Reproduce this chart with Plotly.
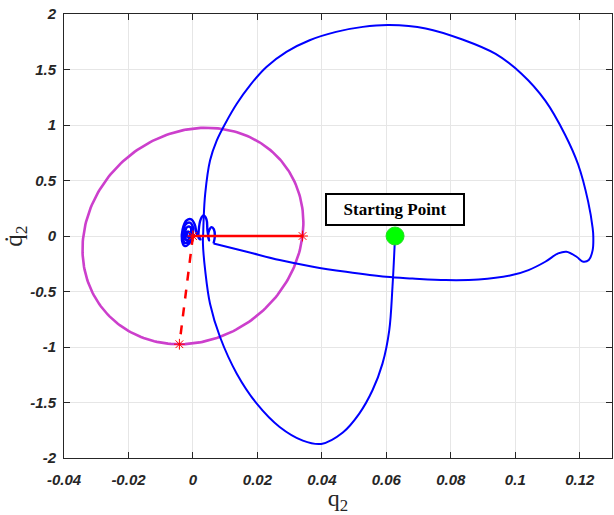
import numpy as np
import plotly.graph_objects as go

# Phase-plane trajectory (q2, dq2/dt), starting at the green marker
traj_q = [0.0627, 0.0624, 0.0619, 0.0609, 0.0588, 0.0557, 0.0516, 0.0465, 0.0398, 0.0341,
          0.0269, 0.0198, 0.0136, 0.0084, 0.0053, 0.0038, 0.0031, 0.0032, 0.0033, 0.0038,
          0.0053, 0.0074, 0.0100, 0.0136, 0.0177, 0.0228, 0.0290, 0.0362, 0.0444, 0.0527,
          0.0609, 0.0722, 0.0836, 0.0939, 0.1020, 0.1093, 0.1154, 0.1195, 0.1226, 0.1240,
          0.1242, 0.1240, 0.1228, 0.1211, 0.1190, 0.1159, 0.1133, 0.1093, 0.1041, 0.0990,
          0.0886, 0.0784, 0.0681, 0.0599, 0.0475, 0.0372, 0.0269, 0.0167, 0.0064]
traj_qdot = [0.0, -0.187, -0.458, -0.85, -1.15, -1.39, -1.60, -1.77, -1.873, -1.843,
             -1.72, -1.51, -1.24, -0.91, -0.61, -0.31, -0.067, 0.04, 0.138, 0.379,
             0.680, 0.861, 1.012, 1.192, 1.358, 1.523, 1.659, 1.764, 1.839, 1.884,
             1.90, 1.87, 1.77, 1.64, 1.46, 1.22, 0.915, 0.644, 0.31, 0.07,
             -0.006, -0.127, -0.217, -0.232, -0.187, -0.142, -0.157, -0.232, -0.307, -0.352,
             -0.392, -0.397, -0.383, -0.368, -0.323, -0.277, -0.217, -0.142, -0.067]

# Decaying small loops around the equilibrium
spiral_q = [0.0064, 0.0068, 0.0065, 0.0058, 0.0050, 0.0047, 0.0050, 0.0045, 0.0042, 0.0033,
            0.0024, 0.0018, 0.0018, 0.0024, 0.0012, 0.0006, -0.0005, -0.0020, -0.0032, -0.0034,
            -0.0026, -0.0012, -0.0002, 0.0000, -0.0010, -0.0024, -0.0030, -0.0026, -0.0014, -0.0006,
            -0.0008, -0.0018, -0.0024, -0.0020, -0.0012, -0.0010, -0.0016, -0.0018, -0.0014]
spiral_qdot = [-0.067, 0.0, 0.06, 0.08, 0.05, 0.0, -0.04, 0.05, 0.15, 0.185,
               0.15, 0.05, -0.02, -0.03, 0.02, 0.10, 0.15, 0.14, 0.06, -0.04,
               -0.09, -0.07, 0.0, 0.08, 0.12, 0.10, 0.02, -0.06, -0.05, 0.02,
               0.08, 0.08, 0.02, -0.04, -0.02, 0.03, 0.04, 0.0, -0.01]

# Two conjugate semi-axes spanning the magenta ellipse
axis_a = [0.034, 0.0]
axis_b = [-0.0042, -0.975]

start_point = [0.0627, 0.0]

x_ticks = [-0.04, -0.02, 0, 0.02, 0.04, 0.06, 0.08, 0.1, 0.12]
x_tick_text = ["-0.04", "-0.02", "0", "0.02", "0.04", "0.06", "0.08", "0.1", "0.12"]
y_ticks = [-2, -1.5, -1, -0.5, 0, 0.5, 1, 1.5, 2]
y_tick_text = ["-2", "-1.5", "-1", "-0.5", "0", "0.5", "1", "1.5", "2"]

t = np.linspace(0, 2 * np.pi, 241)
ell_x = axis_a[0] * np.cos(t) + axis_b[0] * np.sin(t)
ell_y = axis_a[1] * np.cos(t) + axis_b[1] * np.sin(t)

fig = go.Figure()

fig.add_trace(go.Scatter(x=ell_x, y=ell_y, mode="lines",
                         line=dict(color="#cc3fcc", width=2.6), hoverinfo="skip"))

fig.add_trace(go.Scatter(x=traj_q, y=traj_qdot, mode="lines",
                         line=dict(color="#0000ff", width=2, shape="spline", smoothing=1)))
fig.add_trace(go.Scatter(x=spiral_q, y=spiral_qdot, mode="lines",
                         line=dict(color="#0000ff", width=2.4, shape="spline", smoothing=1)))

fig.add_trace(go.Scatter(x=[0, axis_a[0]], y=[0, axis_a[1]], mode="lines+markers",
                         line=dict(color="#ff0000", width=2.5),
                         marker=dict(symbol="asterisk-open", size=9, color="#ff0000",
                                     line=dict(color="#ff0000", width=1))))
fig.add_trace(go.Scatter(x=[0, axis_b[0]], y=[0, axis_b[1]], mode="lines+markers",
                         line=dict(color="#ff0000", width=2.5, dash="dash"),
                         marker=dict(symbol="asterisk-open", size=9, color="#ff0000",
                                     line=dict(color="#ff0000", width=1))))

fig.add_trace(go.Scatter(x=[start_point[0]], y=[start_point[1]], mode="markers",
                         marker=dict(symbol="circle", size=18, color="#00ff00",
                                     line=dict(color="#22dd22", width=1))))

fig.add_annotation(x=start_point[0], y=0.242, text="<b>Starting Point</b>", showarrow=False,
                   font=dict(family="Liberation Serif", size=17, color="#000000"),
                   bgcolor="#ffffff", bordercolor="#000000", borderwidth=2,
                   width=134, height=27, borderpad=1)

tick_font = dict(family="Liberation Sans", size=15, color="#262626", weight="bold", style="italic")

fig.update_layout(
    width=614, height=515,
    margin=dict(l=62, r=1, t=14, b=57),
    paper_bgcolor="#ffffff", plot_bgcolor="#ffffff",
    showlegend=False,
    xaxis=dict(range=[-0.04, 0.13], tickvals=x_ticks, ticktext=x_tick_text,
               showgrid=True, gridcolor="#e6e6e6", gridwidth=1, zeroline=False,
               showline=True, linecolor="#262626", linewidth=1, mirror="ticks",
               ticks="inside", ticklen=6, tickcolor="#262626",
               tickfont=tick_font, ticklabelstandoff=8,
               title=dict(text="q<sub>2</sub>", standoff=9,
                          font=dict(family="Liberation Serif", size=24, color="#262626"))),
    yaxis=dict(range=[-2, 2], tickvals=y_ticks, ticktext=y_tick_text,
               showgrid=True, gridcolor="#e6e6e6", gridwidth=1, zeroline=False,
               showline=True, linecolor="#262626", linewidth=1, mirror="ticks",
               ticks="inside", ticklen=6, tickcolor="#262626",
               tickfont=tick_font, ticklabelstandoff=4,
               title=dict(text="q\u0307<sub>2</sub>", standoff=12,
                          font=dict(family="Liberation Serif", size=25, color="#262626"))),
)

fig.write_html("out.html")
